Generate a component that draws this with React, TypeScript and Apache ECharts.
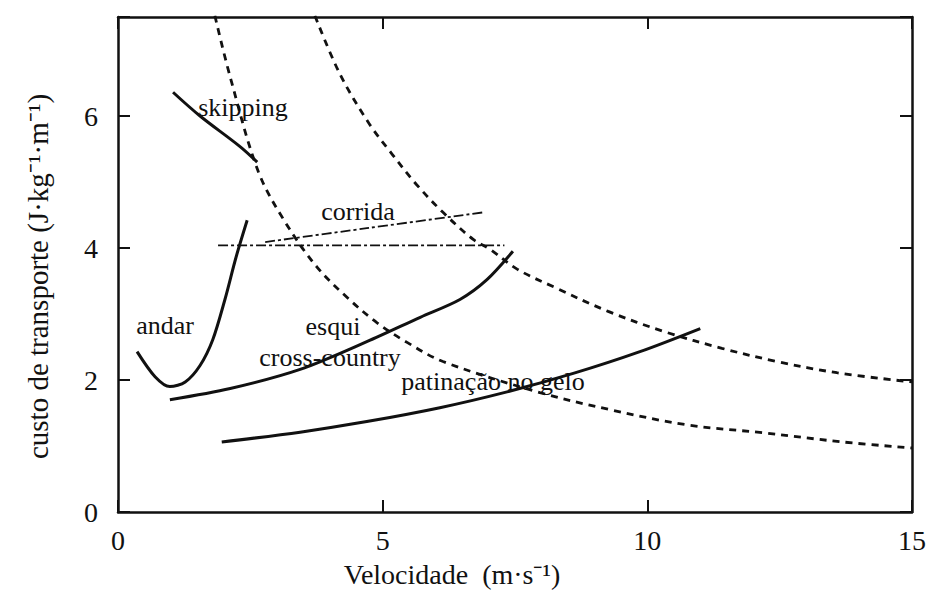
import React, { useEffect, useRef } from "react";
import * as echarts from "echarts";

// Axis ranges and tick steps
const xRange = { min: 0, max: 15, step: 5 };
const yRange = { min: 0, max: 7.5, step: 2 };

// Metabolic cost of transport (J·kg⁻¹·m⁻¹) versus speed (m·s⁻¹)
const isoPowerHigh: [number, number][] = [
  [3.72, 7.52], [4.19, 6.64], [4.74, 5.89], [5.18, 5.42], [5.63, 4.97],
  [6.14, 4.54], [6.71, 4.13], [7.03, 3.98], [7.54, 3.68], [8.26, 3.4],
  [9.26, 3.04], [10.33, 2.73], [11.41, 2.48], [12.45, 2.28], [13.58, 2.11],
  [15.0, 1.97],
];
const isoPowerLow: [number, number][] = [
  [1.83, 7.52], [2.12, 6.59], [2.65, 5.16], [3.16, 4.39], [3.76, 3.71],
  [4.33, 3.25], [4.89, 2.87], [5.46, 2.57], [6.14, 2.28], [7.97, 1.81],
  [9.3, 1.55], [10.75, 1.32], [12.19, 1.2], [13.7, 1.06], [15.0, 0.97],
];
const skipping: [number, number][] = [
  [1.04, 6.36], [1.55, 6.0], [2.3, 5.54], [2.63, 5.3],
];
const andar: [number, number][] = [
  [0.36, 2.43], [0.7, 2.05], [0.98, 1.9], [1.27, 1.97], [1.55, 2.22],
  [1.79, 2.61], [2.02, 3.22], [2.23, 3.86], [2.44, 4.42],
];
const corridaFlat: [number, number][] = [
  [1.89, 4.04], [7.3, 4.04],
];
const corridaRising: [number, number][] = [
  [2.78, 4.09], [4.7, 4.3], [6.9, 4.54],
];
const esqui: [number, number][] = [
  [0.98, 1.7], [2.12, 1.87], [3.44, 2.16], [4.7, 2.58], [5.71, 2.95],
  [6.46, 3.22], [6.97, 3.52], [7.46, 3.95],
];
const patinacao: [number, number][] = [
  [1.96, 1.06], [3.44, 1.21], [4.7, 1.37], [6.08, 1.58], [7.35, 1.82],
  [8.6, 2.1], [9.86, 2.43], [11.0, 2.78],
];

const FONT = "Liberation Serif";
const INK = "#111";

function curve(data: [number, number][], lineType: any, width: number, smooth: number | boolean = 0.35) {
  return {
    type: "line" as const,
    data,
    symbol: "none",
    showSymbol: false,
    smooth,
    silent: true,
    lineStyle: { color: INK, width, type: lineType },
  };
}

function axisCommon(r: { min: number; max: number; step: number }) {
  return {
    type: "value" as const,
    min: r.min,
    max: r.max,
    interval: r.step,
    splitLine: { show: false },
    axisLine: { show: true, onZero: false, lineStyle: { color: INK, width: 2.5 } },
    axisTick: { show: true, inside: true, length: 12, lineStyle: { color: INK, width: 2 } },
  };
}

export default function App() {
  const ref = useRef<HTMLDivElement>(null);

  useEffect(() => {
    if (!ref.current) return;
    const chart = echarts.init(ref.current, undefined, { renderer: "svg" });

    const note = (text: string, x: number, y: number) => ({
      type: "text",
      x,
      y,
      silent: true,
      style: {
        text,
        fontFamily: FONT,
        fontSize: 26,
        fill: INK,
        align: "center",
        verticalAlign: "middle",
      },
    });

    chart.setOption({
      animation: false,
      backgroundColor: "#fff",
      textStyle: { fontFamily: FONT },
      grid: { left: 118, right: 17, top: 17, bottom: 83 },
      xAxis: [
        {
          ...axisCommon(xRange),
          position: "bottom",
          name: "Velocidade  (m·s⁻¹)",
          nameLocation: "middle",
          nameGap: 48,
          nameTextStyle: { fontFamily: FONT, fontSize: 28, color: INK, padding: [0, 126, 0, 0] },
          axisLabel: {
            fontFamily: FONT,
            fontSize: 28,
            color: INK,
            margin: 14,
            formatter: (v: number) => (v % xRange.step === 0 ? String(v) : ""),
          },
        },
        {
          ...axisCommon(xRange),
          position: "top",
          axisLabel: { show: false },
        },
      ],
      yAxis: [
        {
          ...axisCommon(yRange),
          position: "left",
          name: "custo de transporte (J·kg⁻¹·m⁻¹)",
          nameLocation: "middle",
          nameRotate: 90,
          nameGap: 66,
          nameTextStyle: { fontFamily: FONT, fontSize: 29, color: INK, padding: [0, 24, 0, 0] },
          axisLabel: {
            fontFamily: FONT,
            fontSize: 28,
            color: INK,
            margin: 20,
            formatter: (v: number) => (v % yRange.step === 0 ? String(v) : ""),
          },
        },
        {
          ...axisCommon(yRange),
          position: "right",
          axisLabel: { show: false },
        },
      ],
      series: [
        { name: "isoHigh", ...curve(isoPowerHigh, [7, 6], 2.8) },
        { name: "isoLow", ...curve(isoPowerLow, [7, 6], 2.8) },
        { name: "corrida-flat", ...curve(corridaFlat, [10, 3, 3, 3], 1.8, false) },
        { name: "corrida-rising", ...curve(corridaRising, [10, 3, 3, 3], 1.8) },
        { name: "skipping", ...curve(skipping, "solid", 3) },
        { name: "andar", ...curve(andar, "solid", 3, 0.3) },
        { name: "esqui", ...curve(esqui, "solid", 3, 0.3) },
        { name: "patinacao", ...curve(patinacao, "solid", 3, 0.3) },
      ],
      graphic: [
        note("skipping", 243, 107),
        note("corrida", 358, 211),
        note("andar", 165, 325),
        note("esqui", 333, 326),
        note("cross-country", 330, 357),
        note("patinação no gelo", 493, 381),
      ],
    });

    return () => chart.dispose();
  }, []);

  return (
    <div
      ref={ref}
      style={{ position: "absolute", left: 0, top: 0, width: 929, height: 595, background: "#fff" }}
    />
  );
}
